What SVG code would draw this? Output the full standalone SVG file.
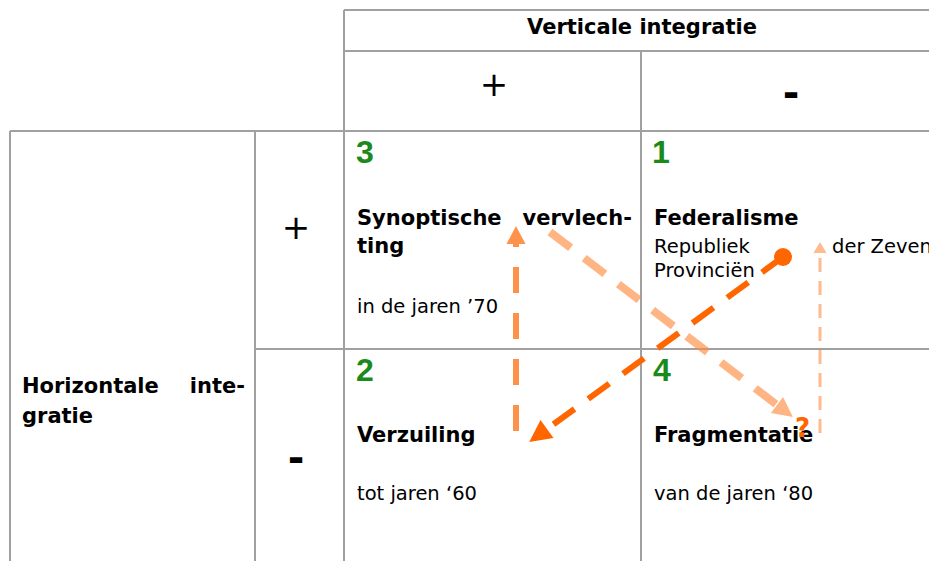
<svg xmlns="http://www.w3.org/2000/svg" width="929" height="561" viewBox="0 0 929 561">
<style>
.grid{stroke:#a0a0a0;stroke-width:2;fill:none}
.h{font-family:"DejaVu Sans",sans-serif;font-weight:bold;font-size:21px;fill:#000}
.r{font-family:"DejaVu Sans",sans-serif;font-size:19.5px;fill:#000}
.n{font-family:"Liberation Sans",Arial,sans-serif;font-weight:bold;font-size:32px;fill:#1a8a1a}
.plus{font-family:"DejaVu Sans",sans-serif;font-size:34px;fill:#000;text-anchor:middle}
.minus{font-family:"DejaVu Sans",sans-serif;font-weight:bold;font-size:40px;fill:#000;text-anchor:middle}
.q{font-family:"DejaVu Sans",sans-serif;font-weight:bold;font-size:26px;fill:#ff6600}
.a1{stroke:#ff7f2a;stroke-opacity:0.85;stroke-width:6;stroke-dasharray:26 20;fill:none}
.a2{stroke:#ff8c42;stroke-opacity:0.65;stroke-width:8;stroke-dasharray:26 17;fill:none}
.a3{stroke:#ff6600;stroke-width:6;stroke-dasharray:26 17;fill:none}
.a4{stroke:#ff8c42;stroke-opacity:0.6;stroke-width:3;stroke-dasharray:14 9;fill:none}
</style>
<defs>
<marker id="m1" markerUnits="userSpaceOnUse" markerWidth="20" markerHeight="20" refX="0" refY="9.5" orient="auto" overflow="visible"><path d="M0,0 L18,9.5 L0,19 z" fill="#ff7f2a" fill-opacity="0.85"/></marker>
<marker id="m2" markerUnits="userSpaceOnUse" markerWidth="22" markerHeight="22" refX="0" refY="10" orient="auto" overflow="visible"><path d="M0,0 L20,10 L0,20 z" fill="#ff8c42" fill-opacity="0.65"/></marker>
<marker id="m3" markerUnits="userSpaceOnUse" markerWidth="24" markerHeight="24" refX="0" refY="11" orient="auto" overflow="visible"><path d="M0,0 L22,11 L0,22 z" fill="#ff6600"/></marker>
<marker id="m4" markerUnits="userSpaceOnUse" markerWidth="14" markerHeight="14" refX="0" refY="6.5" orient="auto" overflow="visible"><path d="M0,0 L11,6.5 L0,13 z" fill="#ff8c42" fill-opacity="0.6"/></marker>
</defs>
<g id="table">
<path class="grid" d="M344,10 H929 M344,51 H929 M10,131 H929 M255,349 H929 M344,10 V561 M641,51 V561 M10,131 V561 M255,131 V561"/>
</g>
<g id="header-vertical">
<text class="h" x="642" y="34" text-anchor="middle">Verticale integratie</text>
<text class="plus" x="494" y="96">+</text>
<text class="minus" x="791" y="107">-</text>
</g>
<g id="header-horizontal">
<text class="h" x="22" y="393">Horizontale</text>
<text class="h" x="245" y="393" text-anchor="end">inte-</text>
<text class="h" x="22" y="423">gratie</text>
<text class="plus" x="296" y="239">+</text>
<text class="minus" x="296" y="472">-</text>
</g>
<g id="cell3">
<text class="n" x="356" y="163">3</text>
<text class="h" x="357" y="225">Synoptische</text>
<text class="h" x="632" y="225" text-anchor="end">vervlech-</text>
<text class="h" x="357" y="253">ting</text>
<text class="r" x="357" y="313">in de jaren ’70</text>
</g>
<g id="cell1">
<text class="n" x="652" y="163">1</text>
<text class="h" x="654" y="225">Federalisme</text>
<text class="r" x="654" y="253">Republiek</text>
<text class="r" x="654" y="277">Provinciën</text>
<text class="r" x="832" y="253">der Zeven</text>
</g>
<g id="cell2">
<text class="n" x="356" y="381">2</text>
<text class="h" x="357" y="442">Verzuiling</text>
<text class="r" x="357" y="500">tot jaren ‘60</text>
</g>
<g id="cell4">
<text class="n" x="653" y="381">4</text>
<text class="h" x="654" y="442">Fragmentatie</text>
<text class="r" x="654" y="500">van de jaren ‘80</text>
</g>
<g id="connectors">
<line class="a1" x1="516" y1="431" x2="516" y2="244" marker-end="url(#m1)"/>
<circle cx="783" cy="257" r="9" fill="#ff6600"/>
<line class="a3" x1="783" y1="257" x2="547" y2="429" marker-end="url(#m3)"/>
<line class="a2" x1="550" y1="232" x2="777" y2="405" marker-end="url(#m2)"/>
<line class="a4" x1="820" y1="433" x2="820" y2="253" marker-end="url(#m4)"/>
<text class="q" x="795" y="437">?</text>
</g>
</svg>
